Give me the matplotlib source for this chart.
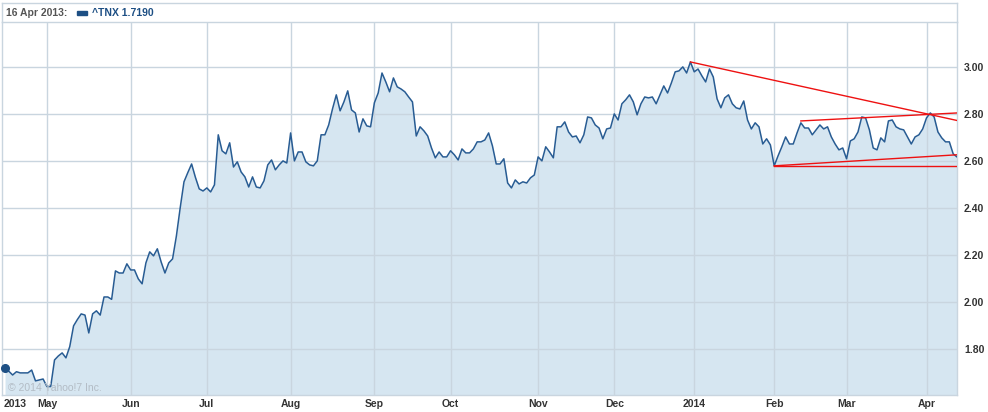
import numpy as np
import pandas as pd
import matplotlib
matplotlib.use('Agg')
import matplotlib.pyplot as plt
from matplotlib.lines import Line2D

plt.rcParams['font.family'] = ['Liberation Sans', 'DejaVu Sans']

# ^TNX daily close, one value per trading day from 16 Apr 2013
START = '2013-04-16'
HOLIDAYS = ['2013-05-27', '2013-07-04', '2013-09-02', '2013-11-28',
            '2013-12-25', '2014-01-01', '2014-01-20', '2014-02-17']
VALUES = [
    1.719, 1.705, 1.689, 1.703, 1.698, 1.698, 1.698, 1.710, 1.664, 1.668,
    1.672, 1.640, 1.640, 1.753, 1.770, 1.783, 1.762, 1.810, 1.898, 1.925,
    1.949, 1.944, 1.868, 1.949, 1.962, 1.944, 2.021, 2.021, 2.011, 2.132,
    2.123, 2.123, 2.162, 2.136, 2.136, 2.098, 2.077, 2.166, 2.213, 2.196,
    2.226, 2.170, 2.123, 2.166, 2.183, 2.280, 2.400, 2.511, 2.550, 2.587,
    2.530, 2.481, 2.472, 2.485, 2.468, 2.498, 2.711, 2.643, 2.630, 2.677,
    2.574, 2.596, 2.553, 2.532, 2.489, 2.532, 2.489, 2.485, 2.515, 2.583,
    2.604, 2.562, 2.583, 2.600, 2.591, 2.719, 2.600, 2.638, 2.638, 2.596,
    2.583, 2.579, 2.600, 2.711, 2.711, 2.753, 2.821, 2.881, 2.813, 2.851,
    2.898, 2.817, 2.804, 2.723, 2.779, 2.749, 2.745, 2.847, 2.889, 2.974,
    2.936, 2.894, 2.953, 2.915, 2.906, 2.894, 2.872, 2.851, 2.706, 2.745,
    2.728, 2.706, 2.655, 2.613, 2.638, 2.617, 2.617, 2.643, 2.626, 2.604,
    2.651, 2.634, 2.634, 2.651, 2.681, 2.681, 2.689, 2.719, 2.664, 2.587,
    2.587, 2.609, 2.506, 2.485, 2.519, 2.502, 2.511, 2.506, 2.528, 2.540,
    2.617, 2.600, 2.660, 2.638, 2.613, 2.745, 2.745, 2.766, 2.723, 2.702,
    2.706, 2.677, 2.711, 2.787, 2.783, 2.753, 2.740, 2.694, 2.736, 2.740,
    2.800, 2.774, 2.843, 2.860, 2.881, 2.851, 2.796, 2.843, 2.872, 2.868,
    2.872, 2.843, 2.881, 2.919, 2.889, 2.932, 2.979, 2.983, 3.000, 2.974,
    3.021, 2.979, 2.991, 2.962, 2.936, 2.991, 2.957, 2.864, 2.826, 2.868,
    2.881, 2.843, 2.826, 2.821, 2.855, 2.774, 2.736, 2.762, 2.745, 2.672,
    2.694, 2.668, 2.579, 2.621, 2.660, 2.702, 2.672, 2.672, 2.719, 2.762,
    2.740, 2.740, 2.711, 2.732, 2.753, 2.736, 2.745, 2.702, 2.672, 2.647,
    2.655, 2.609, 2.685, 2.694, 2.723, 2.787, 2.783, 2.732, 2.655, 2.647,
    2.698, 2.681, 2.770, 2.774, 2.745, 2.736, 2.732, 2.702, 2.672, 2.702,
    2.711, 2.736, 2.783, 2.804, 2.787, 2.723, 2.698, 2.681, 2.681, 2.630,
    2.617,
]

# hand drawn trend lines: (start date, start value), (end date, end value)
TREND_LINES = [
    (('2013-12-31', 3.021), ('2014-04-11', 2.772)),
    (('2014-02-12', 2.770), ('2014-04-11', 2.804)),
    (('2014-02-03', 2.579), ('2014-04-11', 2.626)),
    (('2014-02-03', 2.579), ('2014-04-11', 2.579)),
]

Y_TICKS = [1.80, 2.00, 2.20, 2.40, 2.60, 2.80, 3.00]
Y_RANGE = (1.604, 3.191)

SYMBOL = '^TNX'
HEADER_DATE = '16 Apr 2013:'
FIRST_YEAR = '2013'
COPYRIGHT = u'\u00a9 2014 Yahoo!7 Inc.'

LINE_COLOR = '#285c93'
FILL_COLOR = '#d6e6f1'
GRID_COLOR = '#c9d5df'
TEXT_COLOR = '#333333'

dates = pd.bdate_range(START, periods=len(VALUES) + 20, freq='C',
                       holidays=HOLIDAYS)[:len(VALUES)]
xs = np.arange(len(VALUES))
values = np.array(VALUES)
date_index = {d.strftime('%Y-%m-%d'): i for i, d in enumerate(dates)}

# first trading day of each month gets a grid line
month_pos = [i for i in range(1, len(dates)) if dates[i].month != dates[i - 1].month]
month_lab = [str(dates[i].year) if dates[i].month == 1 else dates[i].strftime('%b')
             for i in month_pos]

fig = plt.figure(figsize=(9.88, 4.12), dpi=100)
ax = fig.add_axes([0.002, 0.0413, 0.9666, 0.9053])

ax.fill_between(xs, values, Y_RANGE[0], color=FILL_COLOR, lw=0, zorder=1)
ax.plot(xs, values, color=LINE_COLOR, lw=1.1, zorder=3)
ax.plot(xs[0], values[0], 'o', color='#1d4f84', ms=5.5, zorder=4, clip_on=False)

for (d0, v0), (d1, v1) in TREND_LINES:
    ax.plot([date_index[d0], date_index[d1]], [v0, v1], color='#ee1111',
            lw=1.0, zorder=5)

ax.set_xlim(-0.8, len(VALUES) - 1)
ax.set_ylim(*Y_RANGE)

ax.set_xticks(month_pos)
ax.set_xticklabels(month_lab)
ax.set_yticks(Y_TICKS)
ax.set_yticklabels(['%.2f' % v for v in Y_TICKS])
ax.yaxis.tick_right()
ax.tick_params(axis='both', length=0, labelsize=7.5, labelcolor=TEXT_COLOR)
ax.tick_params(axis='x', pad=3)
ax.tick_params(axis='y', pad=5)
for lab in ax.get_xticklabels() + ax.get_yticklabels():
    lab.set_fontweight('bold')

ax.grid(True, color=GRID_COLOR, lw=1.0, zorder=2)
ax.set_axisbelow(False)
for sp in ax.spines.values():
    sp.set_color(GRID_COLOR)
    sp.set_linewidth(1.0)

ax.annotate(FIRST_YEAR, xy=(0, 0), xycoords='axes fraction',
            xytext=(1, -3), textcoords='offset points', ha='left', va='top',
            fontsize=7.5, fontweight='bold', color=TEXT_COLOR)
ax.text(0.006, 0.006, COPYRIGHT, transform=ax.transAxes, ha='left',
        va='bottom', fontsize=7.5, color='#b3bcc5', zorder=6)

# header strip above the plot
top = 1 - 3 / 412.
fig.add_artist(Line2D([0.002, 0.9686], [top, top], color=GRID_COLOR, lw=1.0))
fig.add_artist(Line2D([0.002, 0.002], [top, 0.9466], color=GRID_COLOR, lw=1.0))
fig.add_artist(Line2D([0.9686, 0.9686], [top, 0.9466], color=GRID_COLOR, lw=1.0))
hy = 1 - 12.5 / 412.
fig.text(6 / 988., hy, HEADER_DATE, ha='left', va='center', fontsize=7.5,
         fontweight='bold', color='#555555')
fig.add_artist(plt.Rectangle((77 / 988., 1 - 14.5 / 412.), 10 / 988., 4 / 412.,
                             color='#1d4f84', transform=fig.transFigure))
fig.text(92 / 988., hy, '%s %.4f' % (SYMBOL, VALUES[0]), ha='left',
         va='center', fontsize=7.5, fontweight='bold', color='#1d4f84')

fig.savefig('out.png', dpi=100)
